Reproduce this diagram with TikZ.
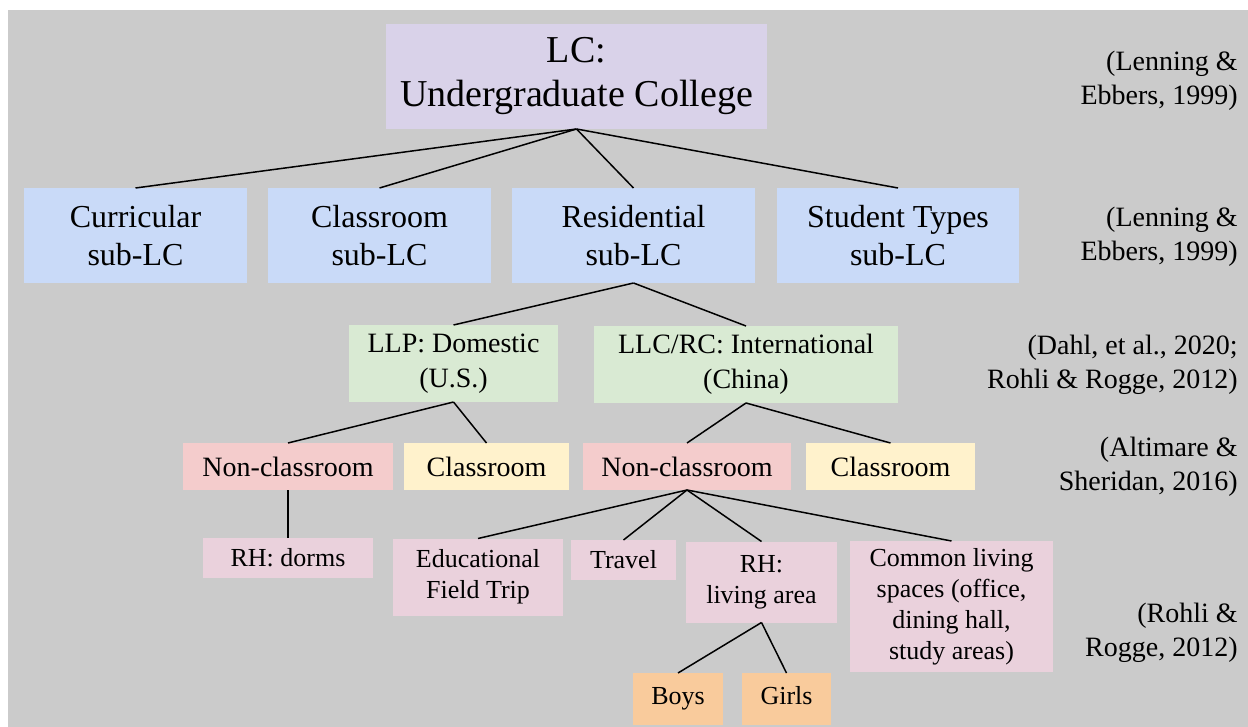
\documentclass[tikz,border=0pt]{standalone}
\usepackage{fontspec}
\setmainfont{Liberation Serif}
\usetikzlibrary{positioning}
\definecolor{backG}{HTML}{CBCBCB}
\definecolor{lcFill}{HTML}{D9D2E9}
\definecolor{subFill}{HTML}{C9DAF8}
\definecolor{progFill}{HTML}{D9EAD3}
\definecolor{nonFill}{HTML}{F4CCCC}
\definecolor{clsFill}{HTML}{FFF2CC}
\definecolor{actFill}{HTML}{EAD1DC}
\definecolor{genFill}{HTML}{F9CB9C}

\begin{document}
\begin{tikzpicture}[
	x=0.5pt, y=-0.5pt,
	box/.style={inner sep=0pt, outer sep=0pt, align=center},
	lcbox/.style={box, fill=lcFill, minimum width=190.5pt, minimum height=52.5pt,
		font=\fontsize{19}{22}\selectfont},
	subbox/.style={box, fill=subFill, minimum height=47.5pt,
		font=\fontsize{16}{19}\selectfont},
	progbox/.style={box, fill=progFill, minimum height=38.5pt,
		font=\fontsize{14}{17.5}\selectfont},
	noncls/.style={box, fill=nonFill, minimum height=23.5pt,
		font=\fontsize{14}{17}\selectfont},
	clsbox/.style={box, fill=clsFill, minimum height=23.5pt,
		font=\fontsize{14}{17}\selectfont},
	act/.style={box, fill=actFill, font=\fontsize{13}{15.5}\selectfont},
	gen/.style={box, fill=genFill, minimum height=26pt, text height=1.6ex, text depth=0.45ex,
		font=\fontsize{13}{15}\selectfont},
	citebox/.style={inner sep=0pt, anchor=east, align=right,
		font=\fontsize{14}{17}\selectfont},
	link/.style={draw=black, line width=0.75pt},
	]
	\fill[white] (0,0) rectangle (1248,727);
	\fill[backG] (8,10) rectangle (1248,727);
	
	\node [lcbox] (lc) at (576.5,76.5) {LC:\\Undergraduate College};
	
	\node [subbox, minimum width=111.5pt] (cur) at (135.5,235.5) {Curricular\\sub-LC};
	\node [subbox, minimum width=111.5pt] (cls) at (379.5,235.5) {Classroom\\sub-LC};
	\node [subbox, minimum width=121.5pt] (res) at (633.5,235.5) {Residential\\sub-LC};
	\node [subbox, minimum width=121pt] (stu) at (898,235.5) {Student Types\\sub-LC};
	
	\node [progbox, minimum width=104.5pt] (llp) at (453.5,363.5) {LLP: Domestic\\(U.S.)};
	\node [progbox, minimum width=152pt] (llc) at (746,364.5) {LLC/RC: International\\(China)};
	
	\node [noncls, minimum width=105pt] (nonL) at (288,466.5) {Non-classroom};
	\node [clsbox, minimum width=82.5pt] (clsL) at (486.5,466.5) {Classroom};
	\node [noncls, minimum width=104pt] (nonR) at (687,466.5) {Non-classroom};
	\node [clsbox, minimum width=84.5pt] (clsR) at (890.5,466.5) {Classroom};
	
	\node [act, minimum width=85pt, minimum height=20pt, below=24pt of nonL] (dorm) {RH: dorms};
	\node [act, minimum width=85pt, minimum height=38.5pt] (edu) at (478,577) {Educational\\Field Trip};
	\node [act, minimum width=52.5pt, minimum height=20pt] (trav) at (623.5,560) {Travel};
	\node [act, minimum width=75.5pt, minimum height=40.5pt] (rhl) at (761.5,582) {RH:\\living area};
	\node [act, minimum width=101.5pt, minimum height=65.5pt] (com) at (951.5,606.5)
		{Common living\\spaces (office,\\dining hall,\\study areas)};
	
	\node [gen, minimum width=45pt] (boys) at (678,699) {Boys};
	\node [gen, minimum width=44.5pt] (girls) at (786.5,699) {Girls};
	
	% sources
	\node [citebox] (c1) at (1238,81) {(Lenning \&\\Ebbers, 1999)};
	\node [citebox] (c2) at (1238,236.5) {(Lenning \&\\Ebbers, 1999)};
	\node [citebox] (c3) at (1238,364.5) {(Dahl, et al., 2020;\\Rohli \& Rogge, 2012)};
	\node [citebox] (c4) at (1238,466.5) {(Altimare \&\\Sheridan, 2016)};
	\node [citebox] (c5) at (1238,632.5) {(Rohli \&\\Rogge, 2012)};
	
	\foreach \n in {cur,cls,res,stu} \draw [link] (lc.south) -- (\n.north);
	\foreach \n in {llp,llc} \draw [link] (res.south) -- (\n.north);
	\foreach \n in {nonL,clsL} \draw [link] (llp.south) -- (\n.north);
	\foreach \n in {nonR,clsR} \draw [link] (llc.south) -- (\n.north);
	\draw [link] (nonL.south) -- (dorm.north);
	\foreach \n in {edu,trav,rhl,com} \draw [link] (nonR.south) -- (\n.north);
	\foreach \n in {boys,girls} \draw [link] (rhl.south) -- (\n.north);
\end{tikzpicture}
\end{document}
